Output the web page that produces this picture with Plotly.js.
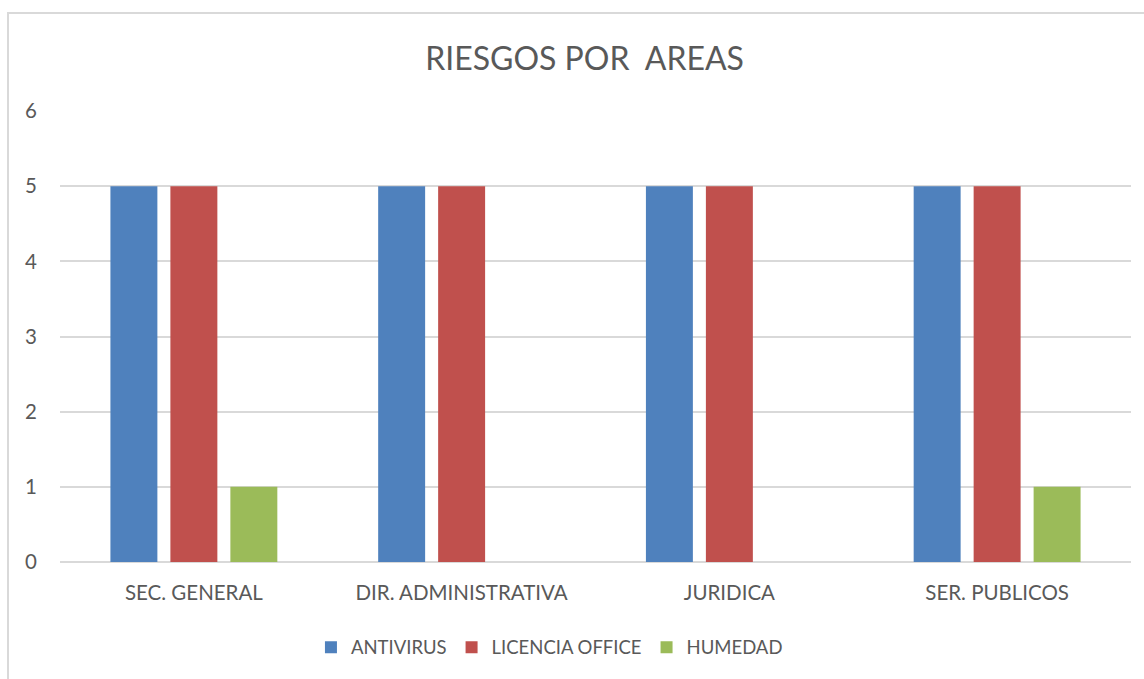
<!DOCTYPE html>
<html>
<head>
<meta charset="utf-8">
<script src="https://cdn.plot.ly/plotly-3.0.1.min.js"></script>
<style>
html,body{margin:0;padding:0;background:#fff;}
#wrap{position:relative;width:1144px;height:679px;overflow:hidden;}
#frame{position:absolute;left:7px;top:12px;width:1200px;height:700px;border:2px solid #d9d9d9;box-sizing:border-box;pointer-events:none;}
#chart{position:absolute;left:0;top:0;width:1144px;height:679px;}
</style>
</head>
<body>
<div id="wrap">
<div id="chart"></div>
<div id="frame"></div>
</div>
<script>
const categories = ["SEC. GENERAL", "DIR. ADMINISTRATIVA", "JURIDICA", "SER. PUBLICOS"];
const antivirus = [5, 5, 5, 5];
const licenciaOffice = [5, 5, 5, 5];
const humedad = [1, 0, 0, 1];
const yTicks = [0, 1, 2, 3, 4, 5, 6];

const FONT = "Lato, 'Open Sans', sans-serif";
const TXT = "#595959";

function bar(name, y, color) {
  return {
    type: "bar", name: name, x: categories, y: y,
    marker: {color: color, line: {width: 0}},
    hoverinfo: "x+y+name"
  };
}

const data = [
  bar("ANTIVIRUS", antivirus, "#4F81BD"),
  bar("LICENCIA OFFICE", licenciaOffice, "#C0504D"),
  bar("HUMEDAD", humedad, "#9BBB59")
];

const layout = {
  width: 1144, height: 679,
  margin: {l: 60, r: 13, t: 111, b: 117, pad: 0},
  paper_bgcolor: "rgba(0,0,0,0)",
  plot_bgcolor: "rgba(0,0,0,0)",
  font: {family: FONT, color: TXT, size: 20},
  title: {text: "RIESGOS POR  AREAS", x: 0.511, xanchor: "center", y: 0.914, yanchor: "middle",
          font: {family: FONT, size: 32, color: TXT}},
  barmode: "group",
  bargap: 0.328,
  bargroupgap: 0.217,
  showlegend: true,
  legend: {orientation: "h", x: 0.457, xanchor: "center", y: -0.19, yanchor: "middle",
           font: {family: FONT, size: 18.5, color: TXT}, itemwidth: 30, traceorder: "normal"},
  xaxis: {
    type: "category", showgrid: false, zeroline: false, showline: false,
    ticks: "", tickfont: {family: FONT, size: 20.5, color: TXT}, ticklabelstandoff: 16
  },
  yaxis: {
    range: [0, 6], tickvals: yTicks, ticktext: yTicks.map(String),
    showgrid: true, gridcolor: "#d9d9d9", gridwidth: 2,
    zeroline: true, zerolinecolor: "#d9d9d9", zerolinewidth: 2,
    showline: false, ticks: "", tickfont: {family: FONT, size: 20.5, color: TXT},
    ticklabelstandoff: 22, fixedrange: true
  }
};

Plotly.newPlot("chart", data, layout, {displayModeBar: false, staticPlot: true});
</script>
</body>
</html>
